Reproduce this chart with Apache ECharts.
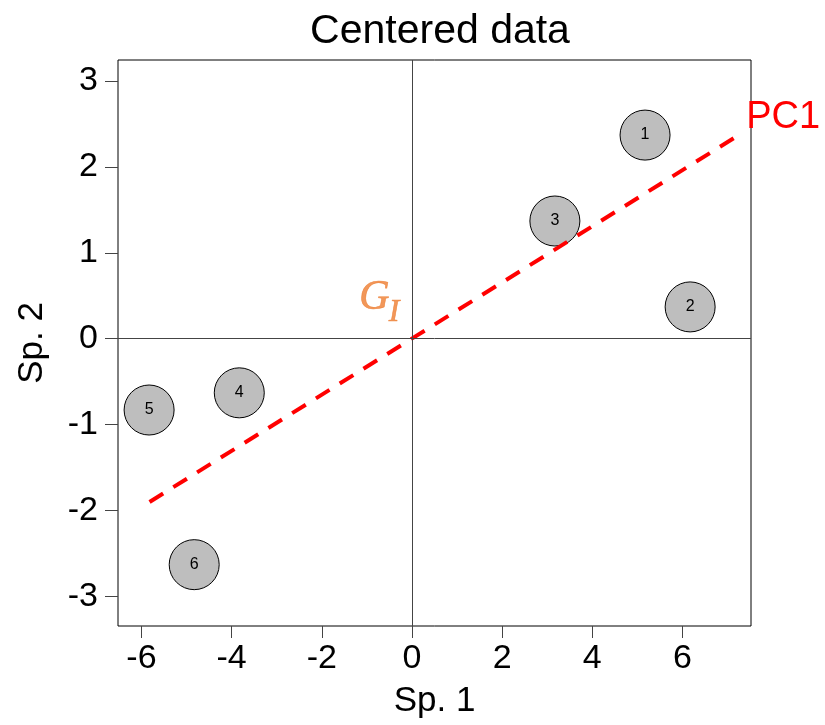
<!DOCTYPE html>
<html>
<head>
<meta charset="utf-8">
<script src="https://cdn.jsdelivr.net/npm/echarts@6/dist/echarts.min.js"></script>
<style>
  html, body { margin: 0; padding: 0; background: #fff; }
  #chart { width: 825px; height: 725px; }
</style>
</head>
<body>
<div id="chart"></div>
<script>
// Centered observations (Sp. 1, Sp. 2) and their labels
const siteNames = ['1', '2', '3', '4', '5', '6'];
const sp1 = [5.17, 6.17, 3.17, -3.83, -5.83, -4.83];
const sp2 = [2.37, 0.37, 1.37, -0.63, -0.83, -2.63];

// First principal axis, drawn between two points on the line through the centroid
const pc1X = [-5.82, 7.28];
const pc1Y = [-1.90, 2.38];

// Centroid of the centered data
const centroid = [0, 0];

// Tick positions
const xTicks = [-6, -4, -2, 0, 2, 4, 6];
const yTicks = [-3, -2, -1, 0, 1, 2, 3];

const FONT = 'Liberation Sans, Arial, sans-serif';
const SERIF = 'Liberation Serif, serif';
const ORANGE = '#ED7D31';

const chart = echarts.init(document.getElementById('chart'), null, { renderer: 'canvas' });

const points = sp1.map((x, i) => ({ value: [x, sp2[i]], name: siteNames[i] }));
const pc1Data = pc1X.map((x, i) => [x, pc1Y[i]]);

// Invisible anchor at the centroid that only carries a text label
function centroidText(text, size, offset) {
  return {
    type: 'scatter',
    z: 4,
    silent: true,
    data: [centroid],
    symbol: 'circle',
    symbolSize: 1,
    itemStyle: { color: 'rgba(0,0,0,0)' },
    label: {
      show: true,
      position: offset,
      align: 'right',
      verticalAlign: 'middle',
      formatter: text,
      fontFamily: SERIF,
      fontStyle: 'italic',
      fontSize: size,
      color: ORANGE,
      textBorderColor: ORANGE,
      textBorderWidth: 0.6
    }
  };
}

chart.setOption({
  animation: false,
  backgroundColor: '#ffffff',
  title: {
    text: 'Centered data',
    left: 435,
    top: 6,
    textAlign: 'center',
    textStyle: { fontFamily: FONT, fontSize: 41, fontWeight: 'normal', color: '#000' }
  },
  grid: {
    left: 118, right: 74, top: 60, bottom: 99,
    show: true, borderColor: '#000', borderWidth: 1, backgroundColor: 'transparent'
  },
  xAxis: {
    type: 'value',
    min: -6.52, max: 7.52,
    name: 'Sp. 1',
    nameLocation: 'middle',
    nameGap: 58,
    nameTextStyle: { fontFamily: FONT, fontSize: 35, color: '#000' },
    axisLine: { show: false, onZero: false },
    axisTick: { show: true, customValues: xTicks, length: 12, inside: false, lineStyle: { color: '#444', width: 1 } },
    axisLabel: { customValues: xTicks, fontFamily: FONT, fontSize: 34, color: '#000', margin: 16 },
    splitLine: { show: false }
  },
  yAxis: {
    type: 'value',
    min: -3.344, max: 3.244,
    name: 'Sp. 2',
    nameLocation: 'middle',
    nameGap: 68,
    nameRotate: 90,
    nameTextStyle: { fontFamily: FONT, fontSize: 35, color: '#000' },
    axisLine: { show: false, onZero: false },
    axisTick: { show: true, customValues: yTicks, length: 13, inside: false, lineStyle: { color: '#444', width: 1 } },
    axisLabel: { customValues: yTicks, fontFamily: FONT, fontSize: 34, color: '#000', margin: 20 },
    splitLine: { show: false }
  },
  series: [
    {
      // Observations as labelled grey discs, plus the zero reference lines
      type: 'scatter',
      z: 2,
      data: points,
      symbol: 'circle',
      symbolSize: 50,
      itemStyle: { color: '#BEBEBE', borderColor: '#000', borderWidth: 1, opacity: 1 },
      label: {
        show: true, position: 'inside', formatter: p => p.name,
        fontFamily: FONT, fontSize: 16, color: '#000'
      },
      markLine: {
        silent: true,
        symbol: ['none', 'none'],
        label: { show: false },
        lineStyle: { color: '#444', width: 1, type: 'solid' },
        data: [{ xAxis: 0 }, { yAxis: 0 }]
      }
    },
    {
      // PC1 direction
      type: 'line',
      z: 3,
      data: pc1Data,
      symbol: 'none',
      lineStyle: { color: '#FF0000', width: 4, type: [16, 12] },
      endLabel: {
        show: true, formatter: 'PC1', distance: 6, offset: [0, -17],
        fontFamily: FONT, fontSize: 38, color: '#FF0000'
      }
    },
    // Centroid label: G with subscript I
    centroidText('G', 42, [-22, -40]),
    centroidText('I', 32, [-12, -26])
  ]
});
</script>
</body>
</html>
